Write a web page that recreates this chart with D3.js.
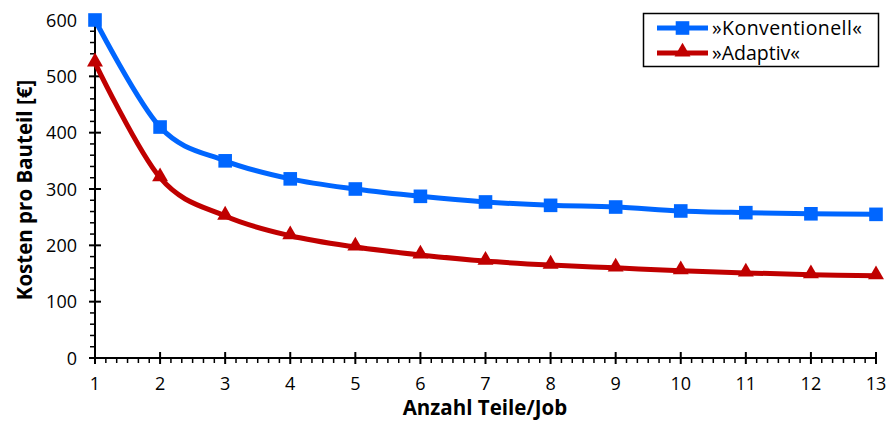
<!DOCTYPE html>
<html>
<head>
<meta charset="utf-8">
<script src="https://cdn.jsdelivr.net/npm/d3@7"></script>
<style>
  html, body { margin: 0; padding: 0; background: #fff; }
  svg text { font-family: "Open Sans", "Noto Sans", sans-serif; fill: #000; }
</style>
</head>
<body>
<svg id="chart" width="891" height="421"></svg>
<script>
// Cost per part versus number of parts per job
const teile = [1, 2, 3, 4, 5, 6, 7, 8, 9, 10, 11, 12, 13];
const konventionell = [600, 410, 350, 318, 300, 287, 277, 271, 268, 261, 258, 256, 255];
const adaptiv = [524, 320, 252, 217, 197, 183, 172, 165, 160, 155, 151, 148, 146];
const yTicks = [0, 100, 200, 300, 400, 500, 600];
const seriesNames = ["»Konventionell«", "»Adaptiv«"];

const svg = d3.select("#chart");
const x = d3.scaleLinear().domain([1, 13]).range([95, 876]);
const y = d3.scaleLinear().domain([0, 600]).range([358, 20]);

// minor ticks
const xMinor = [];
for (let i = 1; i < 13; i++) for (let k = 1; k < 6; k++) xMinor.push(i + k / 6);
const yMinor = [];
for (let v = 0; v < 600; v += 100) for (let k = 1; k < 5; k++) yMinor.push(v + k * 20);

const axes = svg.append("g").attr("stroke", "#000");
axes.append("line").attr("x1", x(1)).attr("x2", x(13)).attr("y1", y(0)).attr("y2", y(0)).attr("stroke-width", 2);
axes.append("line").attr("x1", x(1)).attr("x2", x(1)).attr("y1", y(0)).attr("y2", y(600)).attr("stroke-width", 2);
axes.selectAll(".xmin").data(xMinor).join("line")
  .attr("x1", d => x(d)).attr("x2", d => x(d)).attr("y1", y(0)).attr("y2", y(0) + 5).attr("stroke-width", 1.5);
axes.selectAll(".xmaj").data(teile).join("line")
  .attr("x1", d => x(d)).attr("x2", d => x(d)).attr("y1", y(0) - 6).attr("y2", y(0) + 6).attr("stroke-width", 2);
axes.selectAll(".ymin").data(yMinor).join("line")
  .attr("x1", x(1) - 5).attr("x2", x(1)).attr("y1", d => y(d)).attr("y2", d => y(d)).attr("stroke-width", 1.5);
axes.selectAll(".ymaj").data(yTicks).join("line")
  .attr("x1", x(1) - 6).attr("x2", x(1) + 6).attr("y1", d => y(d)).attr("y2", d => y(d)).attr("stroke-width", 2);

svg.selectAll(".xl").data(teile).join("text")
  .attr("x", d => x(d)).attr("y", 390).attr("text-anchor", "middle")
  .attr("font-size", 18).text(d => d);
svg.selectAll(".yl").data(yTicks).join("text")
  .attr("x", 77).attr("y", d => y(d) + 6.5).attr("text-anchor", "end")
  .attr("font-size", 18).text(d => d);

svg.append("text").attr("x", 485).attr("y", 415).attr("text-anchor", "middle")
  .attr("font-size", 20.5).attr("font-weight", "bold").text("Anzahl Teile/Job");
svg.append("text").attr("transform", "translate(32,190) rotate(-90)").attr("text-anchor", "middle")
  .attr("font-size", 20.5).attr("font-weight", "bold").text("Kosten pro Bauteil [€]");

const line = d3.line().x((d, i) => x(teile[i])).y(d => y(d)).curve(d3.curveCardinal.tension(0));
const colors = ["#0066ff", "#c00000"];
const series = [konventionell, adaptiv];

series.forEach((s, si) => {
  svg.append("path").attr("d", line(s)).attr("fill", "none")
    .attr("stroke", colors[si]).attr("stroke-width", 5);
});

const square = d3.symbol().type(d3.symbolSquare).size(185);
const tri = d3.symbol().type(d3.symbolTriangle).size(110);
svg.selectAll(".sq").data(konventionell).join("path")
  .attr("d", square).attr("fill", colors[0])
  .attr("transform", (d, i) => `translate(${x(teile[i])},${y(d)})`);
svg.selectAll(".tr").data(adaptiv).join("path")
  .attr("d", tri).attr("fill", colors[1])
  .attr("transform", (d, i) => `translate(${x(teile[i])},${y(d) - 1})`);

// legend
const lg = svg.append("g");
lg.append("rect").attr("x", 643.5).attr("y", 13.5).attr("width", 235).attr("height", 53)
  .attr("fill", "#fff").attr("stroke", "#000").attr("stroke-width", 1.5);
const rows = [28, 53];
rows.forEach((ry, i) => {
  lg.append("line").attr("x1", 657).attr("x2", 708).attr("y1", ry).attr("y2", ry)
    .attr("stroke", colors[i]).attr("stroke-width", 5);
  lg.append("path").attr("d", i === 0 ? square : tri).attr("fill", colors[i])
    .attr("transform", `translate(682.5,${i === 0 ? ry : ry - 1})`);
  lg.append("text").attr("x", 712).attr("y", ry + 7).attr("font-size", 19.5)
    .attr("textLength", i === 0 ? 150 : null).text(seriesNames[i]);
});
</script>
</body>
</html>
